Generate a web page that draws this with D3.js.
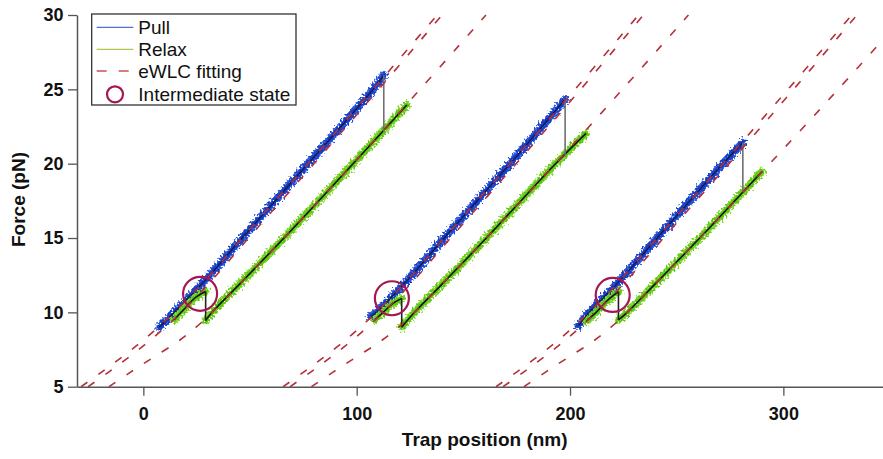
<!DOCTYPE html>
<html>
<head>
<meta charset="utf-8">
<script src="https://cdn.jsdelivr.net/npm/d3@7"></script>
<style>
  html, body { margin: 0; padding: 0; background: #fff; }
  svg { display: block; font-family: "Liberation Sans", Arial, sans-serif; }
</style>
</head>
<body>
<svg id="chart" width="883" height="459"></svg>
<script>
// Force levels (pN) at which the eWLC fit curves are tabulated
const forceLevels = [5, 6, 7, 8, 9, 10, 12, 15, 20, 25, 30];

// eWLC fits: trap position (nm) at each force level, three states per cycle
const fit1Folded       = [-29.2, -19.4, -10.0, -1.1,  6.9,  14.4,  28.0,  46.3,  77.2, 107.7, 137.7];
const fit1Intermediate = [-25.9, -16.1,  -6.7,  2.2, 10.2,  17.7,  31.1,  49.3,  80.0, 110.3, 140.0];
const fit1Unfolded     = [-16.1,  -5.8,   5.0, 15.8, 24.7,  32.2,  45.8,  65.9,  98.3, 129.7, 160.6];
const fit2Folded       = [ 65.5,  75.3,  84.7, 93.6, 101.6, 109.1, 122.7, 141.0, 171.9, 202.4, 232.1];
const fit2Intermediate = [ 68.8,  78.6,  88.0, 96.9, 104.9, 112.4, 125.8, 144.0, 174.7, 205.0, 234.4];
const fit2Unfolded     = [ 78.8,  89.1,  99.9, 110.7, 119.6, 127.1, 140.7, 160.8, 193.2, 224.6, 255.5];
const fit3Folded       = [165.3, 175.1, 184.5, 193.4, 201.4, 208.9, 222.5, 240.8, 271.7, 302.2, 332.1];
const fit3Intermediate = [168.6, 178.4, 187.8, 196.7, 204.7, 212.2, 225.6, 243.8, 274.5, 304.8, 334.5];
const fit3Unfolded     = [178.4, 188.7, 199.5, 210.3, 219.2, 226.8, 240.5, 260.8, 293.6, 325.7, 357.0];

// Pulling traces: [trap position (nm), force (pN)]
const pull1 = [[7.5, 9.0], [14.4, 10], [28.0, 12], [46.3, 15], [77.2, 20], [107.7, 25], [112.7, 25.96]];
const pull2 = [[106.5, 9.7], [109.1, 10], [122.7, 12], [141.0, 15], [171.9, 20], [197.7, 24.33]];
const pull3 = [[204.0, 9.1], [208.9, 10], [222.5, 12], [240.8, 15], [271.7, 20], [281.0, 21.41]];

// Force right after the unfolding rip at the end of each pull (pN)
const ripForce = [22.15, 20.47, 18.11];

// Relaxing traces on the unfolded branch, from high to low force
const relax1 = [[123.5, 23.95], [98.3, 20], [65.9, 15], [45.8, 12], [32.2, 10], [29.2, 9.45]];
const relax2 = [[207.5, 22.04], [193.2, 20], [160.8, 15], [140.7, 12], [127.1, 10], [121.1, 9.0]];
const relax3 = [[289.9, 19.46], [260.8, 15], [240.5, 12], [226.8, 10], [222.7, 9.49]];

// Relaxing traces after refolding into the intermediate state
const refold1 = [[29.2, 11.4], [24.4, 11.0], [17.7, 10.0], [14.5, 9.5]];
const refold2 = [[121.1, 10.94], [117.0, 10.6], [112.4, 10.0], [108.5, 9.5]];
const refold3 = [[222.7, 11.39], [217.5, 10.8], [212.2, 10.0], [207.5, 9.4]];

// Intermediate state markers: [trap position (nm), force (pN)]
const intermediates = [[26.6, 11.25], [116.5, 10.95], [220.0, 11.17]];

// Axis ticks and labels
const xTicks = [0, 100, 200, 300];
const yTicks = [5, 10, 15, 20, 25, 30];
const legendLabels = ["Pull", "Relax", "eWLC fitting", "Intermediate state"];

const svg = d3.select("#chart");
const x = d3.scaleLinear().domain([-31.1, 346.7]).range([77, 883]);
const y = d3.scaleLinear().domain([5, 30]).range([386.7, 15]);

const defs = svg.append("defs");
defs.append("clipPath").attr("id", "plot-clip")
  .append("rect").attr("x", 77).attr("y", 0).attr("width", 806).attr("height", 387);

// Jagged texture for the raw optical-trap traces
const jitter = defs.append("filter").attr("id", "jitter")
  .attr("x", "-5%").attr("y", "-5%").attr("width", "110%").attr("height", "110%");
jitter.append("feTurbulence").attr("type", "fractalNoise").attr("baseFrequency", "0.5")
  .attr("numOctaves", 3).attr("seed", 7).attr("result", "noise");
jitter.append("feDisplacementMap").attr("in", "SourceGraphic").attr("in2", "noise")
  .attr("scale", 10).attr("xChannelSelector", "R").attr("yChannelSelector", "G");

const plot = svg.append("g").attr("clip-path", "url(#plot-clip)");

const traceLine = d3.line().x(d => x(d[0])).y(d => y(d[1])).curve(d3.curveCatmullRom.alpha(0.5));
const straight = d3.line().x(d => x(d[0])).y(d => y(d[1]));
const fitLine = d3.line().x(d => x(d)).y((d, i) => y(forceLevels[i])).curve(d3.curveCatmullRom.alpha(0.5));

const pulls = [pull1, pull2, pull3];
const relaxes = [relax1, relax2, relax3];
const refolds = [refold1, refold2, refold3];
const fits = [fit1Folded, fit1Intermediate, fit1Unfolded,
              fit2Folded, fit2Intermediate, fit2Unfolded,
              fit3Folded, fit3Intermediate, fit3Unfolded];

// Raw pull traces (blue)
const rawPull = plot.append("g").attr("filter", "url(#jitter)");
pulls.forEach(p => {
  rawPull.append("path").attr("d", traceLine(p)).attr("fill", "none")
    .attr("stroke", "#3560e0").attr("stroke-width", 8).attr("stroke-linecap", "round");
  rawPull.append("path").attr("d", traceLine(p)).attr("fill", "none")
    .attr("stroke", "#1b3cc0").attr("stroke-width", 5).attr("stroke-linecap", "round");
});

// Raw relax traces (green)
const rawRelax = plot.append("g").attr("filter", "url(#jitter)");
relaxes.concat(refolds).forEach(p => {
  rawRelax.append("path").attr("d", traceLine(p)).attr("fill", "none")
    .attr("stroke", "#8ade34").attr("stroke-width", 8).attr("stroke-linecap", "round");
  rawRelax.append("path").attr("d", traceLine(p)).attr("fill", "none")
    .attr("stroke", "#5ec31a").attr("stroke-width", 5).attr("stroke-linecap", "round");
});

// Smoothed traces
pulls.forEach(p => {
  plot.append("path").attr("d", traceLine(p)).attr("fill", "none")
    .attr("stroke", "#101a4a").attr("stroke-width", 1.3);
});
relaxes.concat(refolds).forEach(p => {
  plot.append("path").attr("d", traceLine(p)).attr("fill", "none")
    .attr("stroke", "#111").attr("stroke-width", 1.5);
});

// Unfolding rips (grey) and refolding jumps (black)
pulls.forEach((p, i) => {
  const top = p[p.length - 1];
  plot.append("path").attr("d", straight([top, [top[0], ripForce[i]]]))
    .attr("stroke", "#707070").attr("stroke-width", 1.6).attr("fill", "none");
});
relaxes.forEach((r, i) => {
  const low = r[r.length - 1];
  const high = refolds[i][0];
  plot.append("path").attr("d", straight([low, high]))
    .attr("stroke", "#222").attr("stroke-width", 1.6).attr("fill", "none");
});

// eWLC fits
fits.forEach(f => {
  plot.append("path").attr("d", fitLine(f)).attr("fill", "none")
    .attr("stroke", "#b5303a").attr("stroke-width", 1.6)
    .attr("stroke-dasharray", "8,13");
});

// Intermediate state markers
plot.selectAll("circle.state").data(intermediates).join("circle")
  .attr("class", "state")
  .attr("cx", d => x(d[0])).attr("cy", d => y(d[1])).attr("r", 17)
  .attr("fill", "none").attr("stroke", "#a31852").attr("stroke-width", 2.2);

// Axes
const xAxis = svg.append("g").attr("transform", `translate(0,${y(5)})`)
  .call(d3.axisBottom(x).tickValues(xTicks).tickSize(9).tickSizeOuter(0).tickPadding(12));
const yAxis = svg.append("g").attr("transform", `translate(${x.range()[0]},0)`)
  .call(d3.axisLeft(y).tickValues(yTicks).tickSize(9).tickSizeOuter(0).tickPadding(4.5));
[xAxis, yAxis].forEach(a => {
  a.select(".domain").attr("stroke", "#555").attr("stroke-width", 1.5);
  a.selectAll(".tick line").attr("stroke", "#555").attr("stroke-width", 1.3);
  a.selectAll(".tick text").attr("fill", "#111").attr("font-size", 18)
    .attr("font-weight", "bold").attr("font-family", '"Liberation Sans", Arial, sans-serif');
});

svg.append("text").attr("x", 484.7).attr("y", 446).attr("text-anchor", "middle")
  .attr("font-size", 19).attr("font-weight", "bold").attr("fill", "#111")
  .text("Trap position (nm)");
svg.append("text").attr("transform", "translate(25,199.5) rotate(-90)").attr("text-anchor", "middle")
  .attr("font-size", 19).attr("font-weight", "bold").attr("fill", "#111")
  .text("Force (pN)");

// Legend
const legend = svg.append("g");
legend.append("rect").attr("x", 91.7).attr("y", 14).attr("width", 204.3).attr("height", 91)
  .attr("fill", "#fff").attr("stroke", "#222").attr("stroke-width", 1.2);
const rowY = [27.3, 49.3, 71, 94.3];
legend.append("line").attr("x1", 96.7).attr("x2", 133.3).attr("y1", rowY[0]).attr("y2", rowY[0])
  .attr("stroke", "#4f6fd6").attr("stroke-width", 1.3);
legend.append("line").attr("x1", 96.7).attr("x2", 133.3).attr("y1", rowY[1]).attr("y2", rowY[1])
  .attr("stroke", "#b9c24c").attr("stroke-width", 1.3);
legend.append("line").attr("x1", 96.7).attr("x2", 133.3).attr("y1", rowY[2]).attr("y2", rowY[2])
  .attr("stroke", "#c8505a").attr("stroke-width", 1.3).attr("stroke-dasharray", "10,12");
legend.append("circle").attr("cx", 115).attr("cy", rowY[3]).attr("r", 8)
  .attr("fill", "none").attr("stroke", "#a31852").attr("stroke-width", 2.2);
legend.selectAll("text.lab").data(legendLabels).join("text").attr("class", "lab")
  .attr("x", 138.3).attr("y", (d, i) => rowY[i] + 6.8)
  .attr("font-size", 19).attr("fill", "#111").text(d => d);
</script>
</body>
</html>
